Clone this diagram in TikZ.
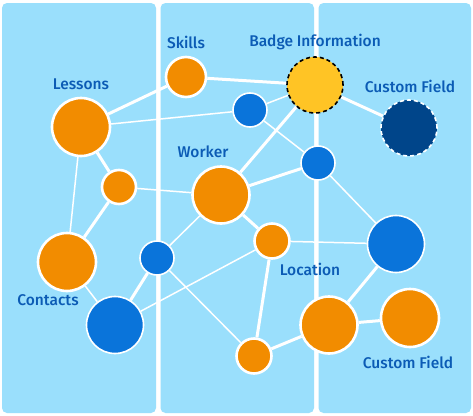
\documentclass[tikz,border=0pt]{standalone}
\usepackage{fontspec}
\setmainfont{Fira Sans}
\newfontfamily\lblfont{Fira Sans Medium}
\pgfdeclarelayer{bg}
\pgfdeclarelayer{edges}
\pgfsetlayers{bg,edges,main}
\definecolor{panel}{HTML}{9ADFFC}
\definecolor{orng}{HTML}{F28C00}
\definecolor{blu}{HTML}{0A74DA}
\definecolor{dblu}{HTML}{00458A}
\definecolor{yel}{HTML}{FFC425}
\definecolor{txt}{HTML}{0B5BB5}
\tikzset{
  panelbox/.style={fill=panel, draw=none, rounded corners=5pt},
  bignode/.style={circle, inner sep=0pt, minimum size=#1, draw=white, line width=2.6pt},
  smallnode/.style={circle, inner sep=0pt, minimum size=#1, draw=white, line width=1.6pt},
  lbl/.style={text=txt, font=\lblfont\fontsize{15.5}{18}\selectfont, inner sep=0pt},
  thick edge/.style={draw=white, line width=3pt},
  thin edge/.style={draw=white, line width=1.5pt},
}
\begin{document}
\begin{tikzpicture}[x=1pt,y=-1pt]
\useasboundingbox (0,0) rectangle (473,415);
\begin{pgfonlayer}{bg}
\fill[white] (0,0) rectangle (473,415);
\fill[panelbox] (2,3) rectangle (156,413);
\fill[panelbox] (160.5,3) rectangle (314,413);
\fill[panelbox] (318.5,3) rectangle (471,413);
\end{pgfonlayer}
% nodes
\node[bignode=40pt, fill=orng] (skills) at (186,77) {};
\node[bignode=58pt, fill=orng] (lessons) at (81,127) {};
\node[bignode=34pt, fill=orng] (lsmall) at (119,187) {};
\node[smallnode=34pt, fill=blu] (btop) at (250,110) {};
\node[circle, inner sep=0pt, minimum size=56pt, fill=yel, draw=black, line width=1.6pt, dash pattern=on 4pt off 3pt] (badge) at (315,85) {};
\node[circle, inner sep=0pt, minimum size=56pt, fill=dblu, draw=white, line width=1.6pt, dash pattern=on 4pt off 3pt] (cfdark) at (409,128) {};
\node[smallnode=34pt, fill=blu] (bmid) at (318,163) {};
\node[bignode=57pt, fill=orng] (worker) at (221,195) {};
\node[bignode=58pt, fill=orng] (contacts) at (67,262) {};
\node[smallnode=34pt, fill=blu] (bsmall) at (157,258) {};
\node[smallnode=57pt, fill=blu] (bbig) at (115,325) {};
\node[bignode=35pt, fill=orng] (location) at (272,241) {};
\node[smallnode=57pt, fill=blu] (bright) at (396,244) {};
\node[bignode=57pt, fill=orng] (obig) at (329,325) {};
\node[bignode=58pt, fill=orng] (cforange) at (410,318) {};
\node[bignode=35pt, fill=orng] (osmall) at (254,356) {};
% labels
\node[lbl] (tskills) at (186,42) {Skills};
\node[lbl] (tlessons) at (81,84) {Lessons};
\node[lbl] (tworker) at (203,152) {Worker};
\node[lbl] (tbadge) at (315,42) {Badge Information};
\node[lbl] (tcf1) at (410,86) {Custom Field};
\node[lbl] (tcontacts) at (48,300) {Contacts};
\node[lbl] (tlocation) at (310,269) {Location};
\node[lbl] (tcf2) at (408,362) {Custom Field};
% edges
\begin{pgfonlayer}{edges}
\draw[thick edge] (skills) -- (lessons);
\draw[thick edge] (skills) -- (badge);
\draw[thin edge] (lessons) -- (btop);
\draw[thick edge] (lessons) -- (lsmall);
\draw[thin edge] (lessons) -- (contacts);
\draw[thin edge] (lsmall) -- (worker);
\draw[thick edge] (lsmall) -- (contacts);
\draw[thin edge] (btop) -- (badge);
\draw[thin edge] (btop) -- (bmid);
\draw[thick edge] (badge) -- (worker);
\draw[thick edge] (badge) -- (cfdark);
\draw[thick edge] (worker) -- (bmid);
\draw[thick edge] (worker) -- (location);
\draw[thin edge] (worker) -- (bsmall);
\draw[thin edge] (bmid) -- (bright);
\draw[thin edge] (location) -- (bright);
\draw[thick edge] (location) -- (osmall);
\draw[thin edge] (bbig) -- (location);
\draw[thin edge] (bsmall) -- (osmall);
\draw[thick edge] (bsmall) -- (bbig);
\draw[thin edge] (contacts) -- (bbig);
\draw[thick edge] (osmall) -- (obig);
\draw[thick edge] (obig) -- (bright);
\draw[thick edge] (obig) -- (cforange);
\end{pgfonlayer}
\end{tikzpicture}
\end{document}
